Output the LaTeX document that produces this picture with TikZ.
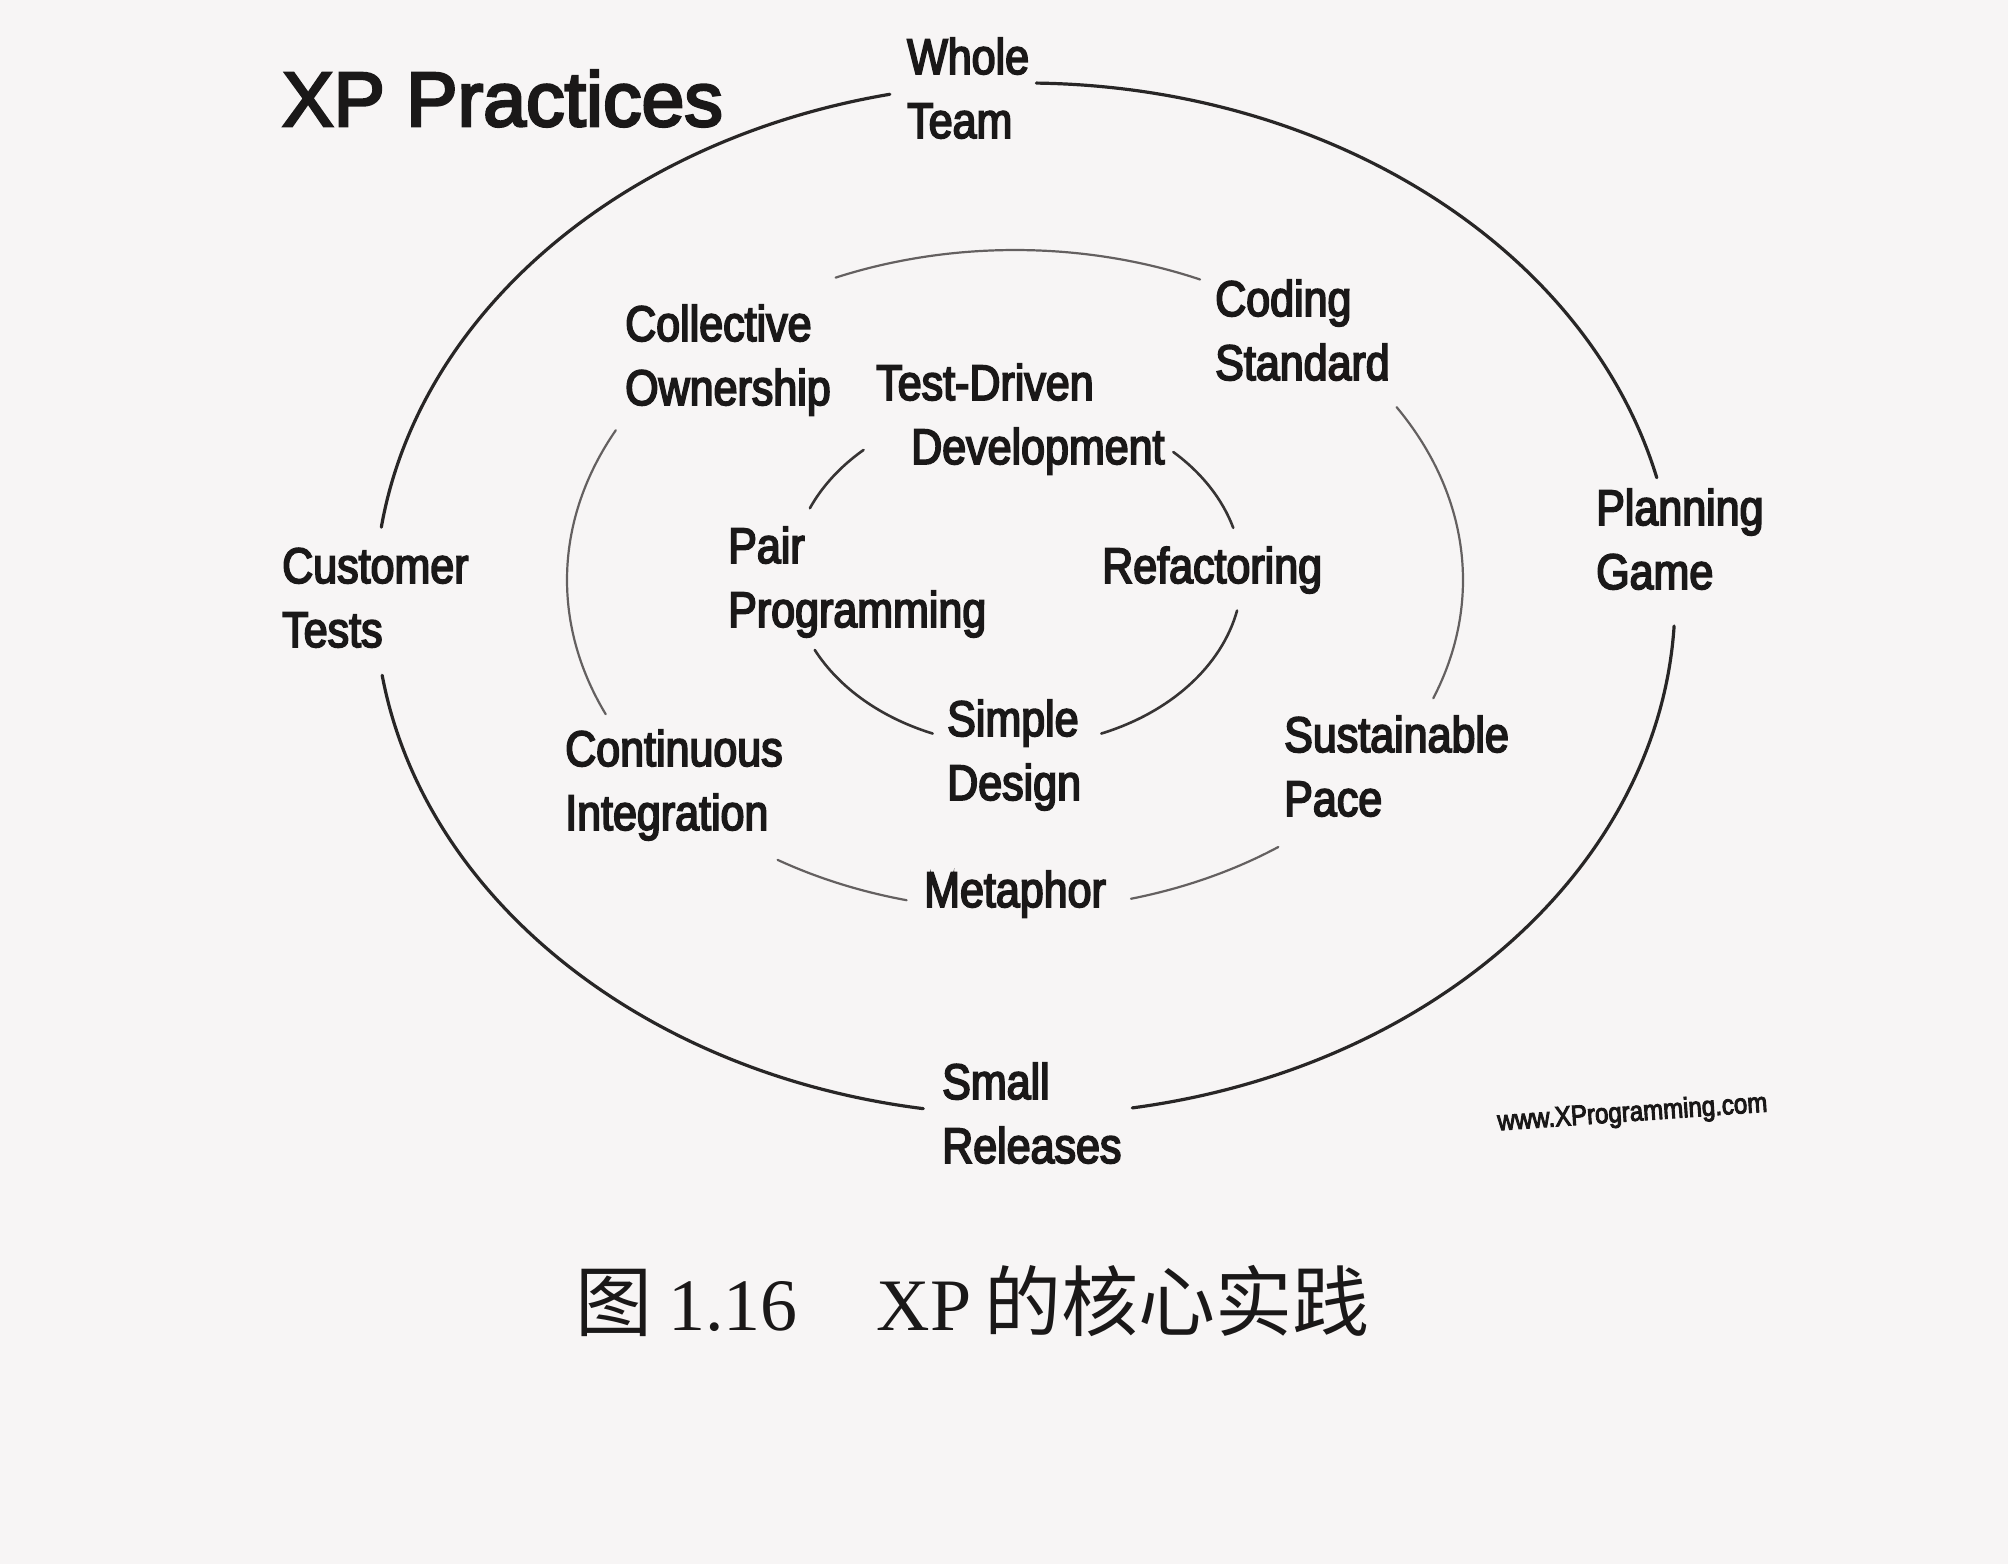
\documentclass[tikz,border=0pt]{standalone}
\usepackage{fontspec}
\newfontfamily\hand{Liberation Sans}[FakeStretch=0.86,FakeBold=3.5]
\newfontfamily\handwide{Liberation Sans}[FakeBold=3.5]
\newfontfamily\capserif{Liberation Serif}
\newfontfamily\cjk{Noto Sans CJK SC}
\definecolor{paper}{RGB}{247,245,245}
\definecolor{ink}{RGB}{26,24,24}
\definecolor{ring}{RGB}{40,38,38}
\definecolor{midring}{RGB}{100,96,96}
\definecolor{innerring}{RGB}{55,52,52}

\begin{document}
\begin{tikzpicture}[x=1pt,y=1pt,
  % anchor is the baseline of the last line of each label
  practice/.style={font=\hand\fontsize{50}{64}\selectfont, text=ink,
    inner sep=0pt, anchor=base west, align=left},
  outerarc/.style={draw=ring, line width=3.2pt, line cap=round},
  midarc/.style={draw=midring, line width=2.2pt, line cap=round},
  innerarc/.style={draw=innerring, line width=2.6pt, line cap=round}
]
% page
\fill[paper] (0,0) rectangle (2008,-1564);
\useasboundingbox (0,0) rectangle (2008,-1564);

% centres of the three rings
\coordinate (Oout) at (1025,-599);
\coordinate (Omid) at (1015,-580);
\coordinate (Oin)  at (1017,-575);

% outer ring
\foreach \a/\b in {102/172, 188.5/261, 279.5/357, 13.6/89}
  \draw[outerarc] (Oout) ++(\a:650 and 516) arc[start angle=\a, end angle=\b, x radius=650, y radius=516];

% middle ring
\foreach \a/\b in {65.6/113.6, 153/204, 238/256, 285/306, -21/31.6}
  \draw[midarc] (Omid) ++(\a:448 and 330) arc[start angle=\a, end angle=\b, x radius=448, y radius=330];

% inner ring
\foreach \a/\b in {16/46, 133/157, 206/248, -68/-12}
  \draw[innerarc] (Oin) ++(\a:225 and 171) arc[start angle=\a, end angle=\b, x radius=225, y radius=171];

% title
\node[practice, font=\handwide\fontsize{77}{90}\selectfont] (title) at (282,-126) {XP Practices};

% outer ring practices
\node[practice] (wholeteam)  at (907,-138)  {Whole\\Team};
\node[practice] (customer)   at (282,-647)  {Customer\\Tests};
\node[practice] (planning)   at (1596,-589) {Planning\\Game};
\node[practice] (small)      at (942,-1163) {Small\\Releases};

% middle ring practices
\node[practice] (collective) at (625,-405)  {Collective\\Ownership};
\node[practice] (coding)     at (1215,-380) {Coding\\Standard};
\node[practice] (continuous) at (565,-830)  {Continuous\\Integration};
\node[practice] (sustain)    at (1284,-816) {Sustainable\\Pace};
\node[practice] (metaphor)   at (924,-907)  {Metaphor};

% inner ring practices
\node[practice] (tdd)        at (876,-464)  {Test-Driven\\\hspace*{35pt}Development};
\node[practice] (pair)       at (728,-627)  {Pair\\Programming};
\node[practice] (refactor)   at (1102,-583) {Refactoring};
\node[practice] (simple)     at (947,-800)  {Simple\\Design};

% source
\node[practice, anchor=base, rotate=4, font=\hand\fontsize{28}{30}\selectfont] (url) at (1633,-1121) {www.XProgramming.com};

% caption
\node[inner sep=0pt, anchor=base west, text=ink, font=\fontsize{74}{80}\selectfont] (caption) at (575,-1330)
  {{\cjk\fontsize{77}{80}\selectfont 图}\hspace{16pt}{\capserif 1.16}\hspace{79pt}{\capserif XP}\hspace{13pt}{\cjk\fontsize{77}{80}\selectfont 的核心实践}};
\end{tikzpicture}
\end{document}
